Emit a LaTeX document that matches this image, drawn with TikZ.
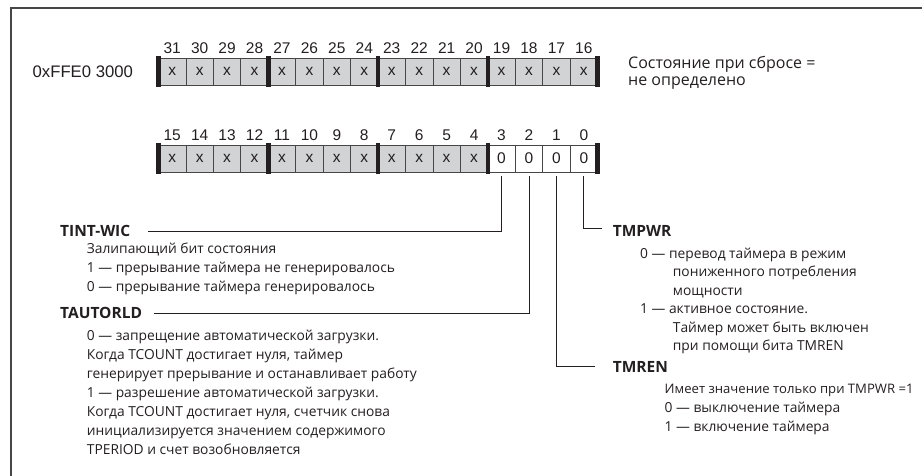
\documentclass[tikz,border=0pt]{standalone}
\usepackage{fontspec}
\setmainfont{Open Sans}
\newfontfamily\regfont{Liberation Sans}
\definecolor{ink}{RGB}{35,31,32}
\definecolor{cellgray}{RGB}{209,211,212}
\definecolor{edge}{RGB}{70,70,70}
\begin{document}
\begin{tikzpicture}[x=1pt,y=-1pt,
  cellbase/.style={draw=edge,line width=0.8pt,minimum width=27.44pt,minimum height=27pt,inner sep=0pt,
    text=ink,font=\regfont\fontsize{15.5}{15.5}\selectfont},
  gcell/.style={cellbase,fill=cellgray},
  wcell/.style={cellbase,fill=white},
  bitnum/.style={anchor=base,inner sep=0pt,text=ink,font=\regfont\fontsize{15.5}{15.5}\selectfont},
  regbar/.style={line width=4.5pt,ink},
  frameline/.style={line width=1.2pt,edge},
  lbl/.style={anchor=base west,inner sep=0pt,text=ink,font=\bfseries\fontsize{15.5}{16}\selectfont},
  desc/.style={anchor=base west,inner sep=0pt,text=ink,font=\fontsize{13.8}{16}\selectfont},
  big/.style={anchor=base west,inner sep=0pt,text=ink,font=\fontsize{16}{20}\selectfont},
  conn/.style={line width=0.8pt,ink}]
\useasboundingbox (0,0) rectangle (922,476);
% frame
\draw[frameline] (11,476) -- (11,8) -- (922,8);
% address
\node[anchor=base west,inner sep=0pt,text=ink,font=\regfont\fontsize{16.7}{16.7}\selectfont] (addr) at (32.5,78) {0xFFE0 3000};
% upper row
\foreach \k in {0,...,15}{
  \pgfmathtruncatemacro\b{31-\k}
  \node[gcell] (u\b) at ({158.5+(\k+0.5)*27.44},71.5) {x};
  \node[bitnum] (un\b) at ({158.5+(\k+0.5)*27.44},54) {\b};
}
% lower row
\foreach \k in {0,...,11}{
  \pgfmathtruncatemacro\b{15-\k}
  \node[gcell] (l\b) at ({158.5+(\k+0.5)*27.44},158.5) {x};
  \node[bitnum] (ln\b) at ({158.5+(\k+0.5)*27.44},140.5) {\b};
}
\foreach \k in {12,...,15}{
  \pgfmathtruncatemacro\b{15-\k}
  \node[wcell] (l\b) at ({158.5+(\k+0.5)*27.44},158.5) {0};
  \node[bitnum] (ln\b) at ({158.5+(\k+0.5)*27.44},140.5) {\b};
}
% thick bars
\foreach \m in {0,...,4}{
  \draw[regbar] ({158.5+4*\m*27.44},56) -- ++(0,31);
  \draw[regbar] ({158.5+4*\m*27.44},143) -- ++(0,31);
}
% reset state
\node[big] (rst1) at (628,68.5) {Состояние при сбросе =};
\node[big] (rst2) at (628,85.5) {не определено};
% TINT-WIC
\node[lbl] (tint) at (60,236.5) {TINT-WIC};
\node[desc] (tint1) at (86.7,253.5) {Залипающий бит состояния};
\node[desc] (tint2) at (86.7,272.5) {1 — прерывание таймера не генерировалось};
\node[desc] (tint3) at (86.7,291.5) {0 — прерывание таймера генерировалось};
% TAUTORLD
\node[lbl] (tauto) at (60,318.5) {TAUTORLD};
\node[desc] (ta1) at (86.7,340) {0 — запрещение автоматической загрузки.};
\node[desc] (ta2) at (86.7,359) {Когда TCOUNT достигает нуля, таймер};
\node[desc] (ta3) at (86.7,378) {генерирует прерывание и останавливает работу};
\node[desc] (ta4) at (86.7,397) {1 — разрешение автоматической загрузки.};
\node[desc] (ta5) at (86.7,416) {Когда TCOUNT достигает нуля, счетчик снова};
\node[desc] (ta6) at (86.7,435) {инициализируется значением содержимого};
\node[desc] (ta7) at (86.7,454) {TPERIOD и счет возобновляется};
% TMPWR
\node[lbl] (tmpwr) at (612.7,236.5) {TMPWR};
\node[desc] (tp1) at (640,258.3) {0 — перевод таймера в режим};
\node[desc] (tp2) at (672.7,276.8) {пониженного потребления};
\node[desc] (tp3) at (672.7,295.3) {мощности};
\node[desc] (tp4) at (640,313.8) {1 — активное состояние.};
\node[desc] (tp5) at (672.7,332.3) {Таймер может быть включен};
\node[desc] (tp6) at (672.7,350.8) {при помощи бита TMREN};
% TMREN
\node[lbl] (tmren) at (612.7,372) {TMREN};
\node[desc,font=\fontsize{13.1}{16}\selectfont] (tr1) at (664.5,393.3) {Имеет значение только при TMPWR =1};
\node[desc] (tr2) at (664.5,412.3) {0 — выключение таймера};
\node[desc] (tr3) at (664.5,431) {1 — включение таймера};
% connectors
\draw[conn] ([yshift=-4pt]l3.south) |- ([xshift=18pt]tint.east);
\draw[conn] ([yshift=-4pt]l2.south) |- ([xshift=12pt]tauto.east);
\draw[conn] ([yshift=-4pt]l1.south) |- ([xshift=-17.7pt]tmren.west);
\draw[conn] ([yshift=-4pt]l0.south) |- ([xshift=-10.7pt,yshift=3pt]tmpwr.west);
\end{tikzpicture}
\end{document}
